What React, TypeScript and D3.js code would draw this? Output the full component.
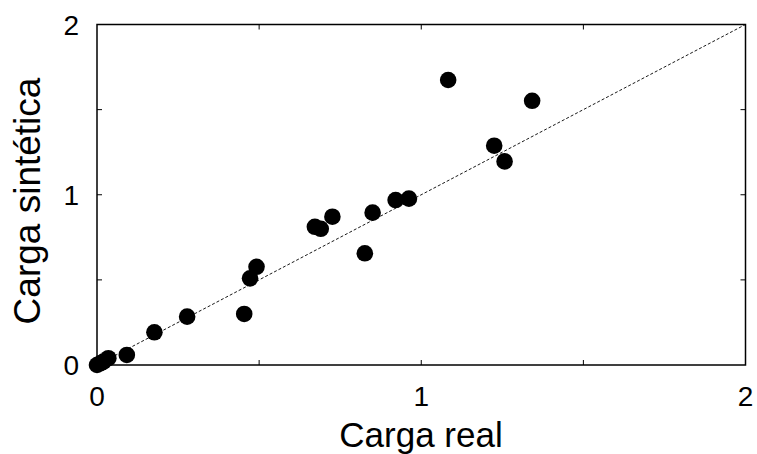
import React from "react";
import * as d3 from "d3";

const realLoad = [0.0, 0.01, 0.02, 0.035, 0.092, 0.177, 0.278, 0.454, 0.472, 0.492, 0.672, 0.69, 0.726, 0.826, 0.85, 0.921, 0.962, 1.083, 1.225, 1.257, 1.342];
const syntheticLoad = [0.0, 0.01, 0.02, 0.04, 0.059, 0.192, 0.284, 0.30, 0.509, 0.577, 0.812, 0.80, 0.871, 0.656, 0.895, 0.969, 0.977, 1.674, 1.288, 1.196, 1.552];
const tickLabels = [0, 1, 2];
const minorTicks = [0.5, 1, 1.5];

export default function App() {
  const W = 757, H = 454;
  const x = d3.scaleLinear().domain([0, 2]).range([97, 745.5]);
  const y = d3.scaleLinear().domain([0, 2]).range([365, 24.5]);
  const font = "'Liberation Sans', Arial, sans-serif";
  const tl = 5;
  return (
    <svg width={W} height={H} style={{ position: "absolute", left: 0, top: 0 }}>
      <rect x={0} y={0} width={W} height={H} fill="#fff" />
      <line x1={x(0)} y1={y(0)} x2={x(2)} y2={y(2)} stroke="#000" strokeWidth={0.9} strokeDasharray="3,2" />
      {realLoad.map((v, i) => (
        <circle key={i} cx={x(v)} cy={y(syntheticLoad[i])} r={8.3} fill="#000" />
      ))}
      <rect x={x(0)} y={y(2)} width={x(2) - x(0)} height={y(0) - y(2)} fill="none" stroke="#000" strokeWidth={1.5} />
      {minorTicks.map((t) => (
        <g key={t} stroke="#000" strokeWidth={1}>
          <line x1={x(t)} x2={x(t)} y1={y(0)} y2={y(0) - tl} />
          <line x1={x(t)} x2={x(t)} y1={y(2)} y2={y(2) + tl} />
          <line x1={x(0)} x2={x(0) + tl} y1={y(t)} y2={y(t)} />
          <line x1={x(2)} x2={x(2) - tl} y1={y(t)} y2={y(t)} />
        </g>
      ))}
      {tickLabels.map((t) => (
        <text key={"x" + t} x={x(t)} y={406} textAnchor="middle" fontFamily={font} fontSize={28}>{t}</text>
      ))}
      {tickLabels.map((t) => (
        <text key={"y" + t} x={79} y={y(t) + 10} textAnchor="end" fontFamily={font} fontSize={28}>{t}</text>
      ))}
      <text x={421} y={447} textAnchor="middle" fontFamily={font} fontSize={35}>Carga real</text>
      <text transform={`translate(40,${201}) rotate(-90)`} textAnchor="middle" fontFamily={font} fontSize={37}>Carga sintética</text>
    </svg>
  );
}
